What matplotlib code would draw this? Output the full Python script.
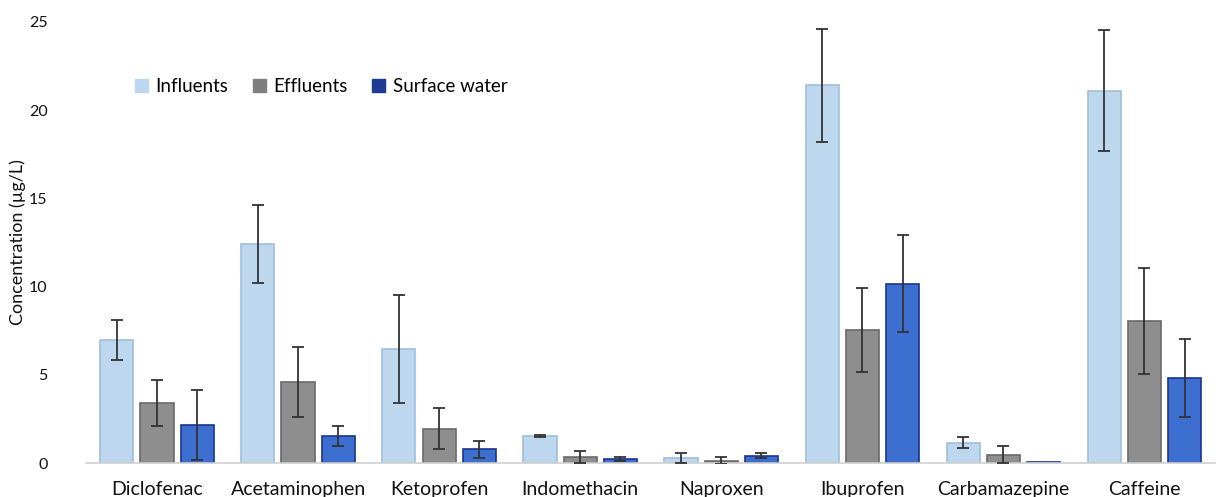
import numpy as np
import matplotlib.pyplot as plt
from matplotlib.patches import Patch

plt.rcParams['font.family'] = ['Lato', 'DejaVu Sans']

compounds = ["Diclofenac", "Acetaminophen", "Ketoprofen", "Indomethacin",
             "Naproxen", "Ibuprofen", "Carbamazepine", "Caffeine"]

influents = [6.97, 12.4, 6.45, 1.53, 0.30, 21.4, 1.17, 21.1]
influents_err = [1.15, 2.2, 3.05, 0.07, 0.28, 3.2, 0.3, 3.43]

effluents = [3.42, 4.61, 1.95, 0.35, 0.15, 7.54, 0.49, 8.07]
effluents_err = [1.3, 2.0, 1.15, 0.33, 0.19, 2.37, 0.5, 3.0]

surface = [2.17, 1.53, 0.78, 0.23, 0.43, 10.17, 0.05, 4.82]
surface_err = [2.0, 0.55, 0.47, 0.12, 0.13, 2.75, 0.0, 2.23]

series = [
    ("Influents", influents, influents_err, "#bdd7ee", "#9fbfdc"),
    ("Effluents", effluents, effluents_err, "#8e8e8e", "#6a6a6a"),
    ("Surface water", surface, surface_err, "#3c6fcf", "#1a358a"),
]
legend_colors = ["#bdd7ee", "#7f7f7f", "#1f3a93"]

fig = plt.figure(figsize=(12.18, 4.97), dpi=100)
ax = fig.add_axes([0.071, 0.068, 0.9265, 0.888])

x = np.arange(len(compounds))
width = 0.235
offset = 0.285

for i, (name, vals, errs, fc, ec) in enumerate(series):
    pos = x + (i - 1) * offset
    ax.bar(pos, vals, width, color=fc, edgecolor=ec, linewidth=1.2, zorder=2)
    mask = np.array(errs) > 0
    ax.errorbar(pos[mask], np.array(vals)[mask], yerr=np.array(errs)[mask],
                fmt='none', ecolor='#333333', elinewidth=1.3, capsize=4,
                capthick=1.3, zorder=3)

ax.set_xlim(-0.5, len(compounds) - 0.5)
ax.set_ylim(0, 25)
ax.set_yticks([0, 5, 10, 15, 20, 25])
ax.set_xticks(x)
ax.set_xticklabels(compounds, fontsize=14, color='#111111')
ax.tick_params(axis='x', length=0, pad=13)
ax.tick_params(axis='y', length=0, labelsize=11.5, pad=28, colors='#111111')
for s in ['top', 'right', 'left']:
    ax.spines[s].set_visible(False)
ax.spines['bottom'].set_color('#d0d0d0')
ax.spines['bottom'].set_linewidth(1.2)

ax.set_ylabel("Concentration (µg/L)", fontsize=13, labelpad=2, color='#111111')

handles = [Patch(facecolor=c, edgecolor=c) for c in legend_colors]
ax.legend(handles, [s[0] for s in series], loc='upper left',
          bbox_to_anchor=(0.028, 0.91), ncol=3, frameon=False, fontsize=13.5,
          handlelength=0.7, handleheight=0.7, handletextpad=0.4,
          columnspacing=1.3)

fig.savefig("out.png", dpi=100)
